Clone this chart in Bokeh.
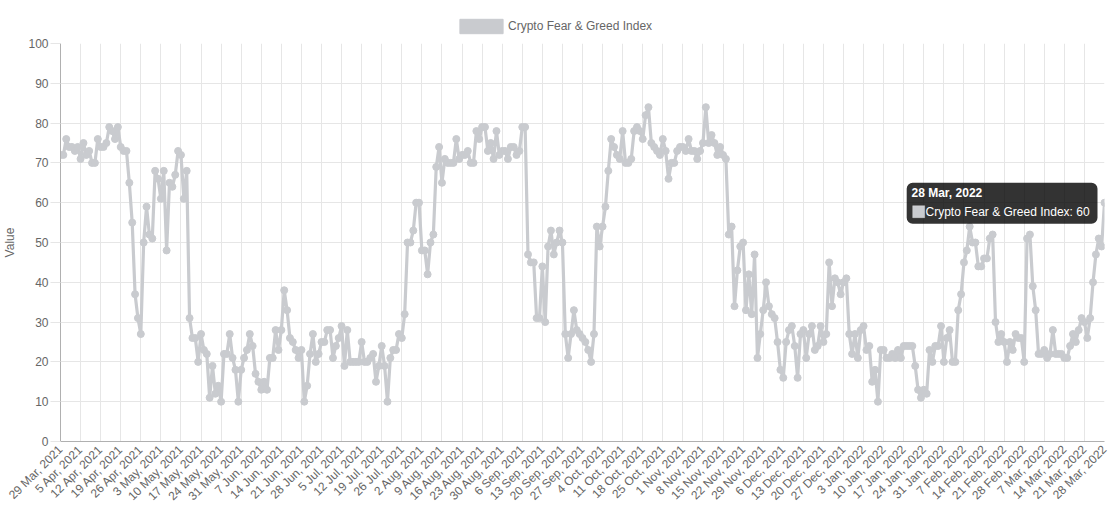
import math
import datetime
from bokeh.plotting import figure
from bokeh.layouts import column
from bokeh.models import (Range1d, FixedTicker, Legend, LegendItem, BoxAnnotation,
                          Label, ColumnDataSource)
from bokeh.embed import file_html
from bokeh.resources import INLINE

# ---------------- data ----------------
start_date = datetime.date(2021, 3, 29)
series_name = "Crypto Fear & Greed Index"
fear_greed = [
    72, 72, 76, 74, 74, 73, 74, 71, 75, 72,
    73, 70, 70, 76, 74, 74, 75, 79, 78, 76,
    79, 74, 73, 73, 65, 55, 37, 31, 27, 50,
    59, 52, 51, 68, 66, 61, 68, 48, 65, 64,
    67, 73, 72, 61, 68, 31, 26, 26, 20, 27,
    23, 22, 11, 19, 12, 14, 10, 22, 22, 27,
    21, 18, 10, 18, 21, 23, 27, 24, 17, 15,
    13, 15, 13, 21, 21, 28, 23, 28, 38, 33,
    26, 25, 23, 21, 23, 10, 14, 22, 27, 20,
    22, 25, 25, 28, 28, 21, 24, 26, 29, 19,
    28, 20, 20, 20, 20, 25, 20, 20, 21, 22,
    15, 19, 24, 19, 10, 21, 23, 23, 27, 26,
    32, 50, 50, 53, 60, 60, 48, 48, 42, 50,
    52, 69, 74, 65, 71, 70, 70, 70, 76, 71,
    72, 72, 73, 70, 70, 78, 76, 79, 79, 73,
    75, 71, 78, 72, 73, 73, 71, 74, 74, 72,
    73, 79, 79, 47, 45, 45, 31, 31, 44, 30,
    49, 53, 47, 50, 53, 50, 27, 21, 27, 33,
    28, 27, 26, 25, 23, 20, 27, 54, 49, 54,
    59, 68, 76, 74, 72, 71, 78, 70, 70, 71,
    78, 79, 78, 76, 82, 84, 75, 74, 73, 72,
    76, 73, 66, 70, 70, 73, 74, 74, 73, 76,
    73, 73, 71, 73, 75, 84, 75, 77, 75, 72,
    74, 72, 71, 52, 54, 34, 43, 49, 50, 33,
    42, 32, 47, 21, 27, 33, 40, 34, 32, 31,
    25, 18, 16, 25, 28, 29, 24, 16, 27, 28,
    21, 27, 29, 23, 24, 29, 25, 27, 45, 34,
    41, 40, 37, 40, 41, 27, 22, 27, 21, 28,
    29, 23, 24, 15, 18, 10, 23, 23, 21, 21,
    22, 21, 23, 21, 24, 24, 24, 24, 19, 13,
    11, 13, 12, 23, 20, 24, 24, 29, 20, 26,
    28, 20, 20, 33, 37, 45, 48, 54, 50, 50,
    44, 44, 46, 46, 51, 52, 30, 25, 27, 25,
    20, 25, 23, 27, 26, 26, 20, 51, 52, 39,
    33, 22, 22, 23, 21, 22, 28, 22, 22, 22,
    21, 21, 24, 27, 25, 28, 31, 30, 26, 31,
    40, 47, 51, 49, 60,
]
y_ticks = [0, 10, 20, 30, 40, 50, 60, 70, 80, 90, 100]
month_abbr = ["Jan", "Feb", "Mar", "Apr", "May", "Jun",
              "Jul", "Aug", "Sep", "Oct", "Nov", "Dec"]

day_index = list(range(len(fear_greed)))
dates = [start_date + datetime.timedelta(days=i) for i in day_index]
date_labels = [f"{d.day} {month_abbr[d.month - 1]}, {d.year}" for d in dates]
tick_days = day_index[::7]
tick_labels = {i: date_labels[i] for i in tick_days}

# ---------------- styling ----------------
FONT = "Liberation Sans"
TEXT_COLOR = "#666666"
LINE_COLOR = "#c9cbcf"
GRID_COLOR = "#e6e6e6"
AXIS_COLOR = "#b0b0b0"
WIDTH = 1112

# ---------------- header with legend ----------------
head = figure(width=WIDTH, height=35, output_backend="svg", toolbar_location=None,
              x_range=Range1d(0, 1), y_range=Range1d(0, 1),
              x_axis_location=None, y_axis_location=None,
              min_border_left=0, min_border_right=0, min_border_top=0, min_border_bottom=0)
head.outline_line_color = None
head.grid.visible = False
# legend key renderer, kept outside the header's visible range
proxy = head.quad(left=[2], right=[3], top=[3], bottom=[2], fill_color=LINE_COLOR,
                  line_color=LINE_COLOR, line_width=1)
legend = Legend(items=[LegendItem(label=series_name, renderers=[proxy])],
                location=(394, 0), orientation="horizontal",
                glyph_width=54, glyph_height=18, label_height=18,
                padding=0, margin=0, spacing=0, label_standoff=0,
                border_line_color=None, background_fill_alpha=0,
                label_text_font=FONT, label_text_font_size="12px",
                label_text_color=TEXT_COLOR)
head.add_layout(legend)

# ---------------- main chart ----------------
p = figure(width=WIDTH, height=476, output_backend="svg", toolbar_location=None,
           x_range=Range1d(day_index[0], day_index[-1]), y_range=Range1d(0, 100),
           min_border_left=59, min_border_right=8, min_border_top=8, min_border_bottom=68)
p.outline_line_color = None
p.background_fill_color = "white"
p.border_fill_color = "white"

src = ColumnDataSource(dict(x=day_index, y=fear_greed, date=date_labels))
p.line("x", "y", source=src, line_color=LINE_COLOR, line_width=3.2)
p.scatter("x", "y", source=src, size=7, fill_color=LINE_COLOR, line_color=LINE_COLOR)

# axes
p.yaxis.ticker = FixedTicker(ticks=y_ticks)
p.yaxis.axis_label = "Value"
p.yaxis.axis_label_text_font_style = "normal"
p.yaxis.axis_label_text_font = FONT
p.yaxis.axis_label_text_font_size = "12px"
p.yaxis.axis_label_text_color = TEXT_COLOR
p.yaxis.axis_label_standoff = 8
p.yaxis.major_tick_out = 10
p.yaxis.major_tick_in = 0
p.yaxis.major_label_standoff = 2

p.xaxis.ticker = FixedTicker(ticks=tick_days)
p.xaxis.major_label_overrides = tick_labels
p.xaxis.major_label_orientation = math.pi / 4
p.xaxis.major_tick_out = 0
p.xaxis.major_tick_in = 0
p.xaxis.major_label_standoff = 6

for ax in (p.xaxis, p.yaxis):
    ax.minor_tick_line_color = None
    ax.major_tick_line_color = GRID_COLOR
    ax.axis_line_color = AXIS_COLOR
    ax.major_label_text_font = FONT
    ax.major_label_text_font_size = "12px"
    ax.major_label_text_color = TEXT_COLOR

p.grid.grid_line_color = GRID_COLOR

# tooltip for the last point (static)
FRAME_W, FRAME_H = 1045.0, 398.0
px_x = (day_index[-1] - day_index[0]) / FRAME_W
px_y = 100.0 / FRAME_H
lx, ly = day_index[-1], fear_greed[-1]
p.add_layout(BoxAnnotation(left=lx - 198 * px_x, right=lx - 7 * px_x,
                           top=ly + 20 * px_y, bottom=ly - 21 * px_y,
                           fill_color="black", fill_alpha=0.8, line_alpha=0,
                           border_radius=6))
p.add_layout(BoxAnnotation(left=lx - 192 * px_x, right=lx - 180 * px_x,
                           top=ly - 3 * px_y, bottom=ly - 15 * px_y,
                           fill_color=LINE_COLOR, fill_alpha=1.0,
                           line_color="white", line_width=1))
p.add_layout(Label(x=lx, y=ly, x_offset=-193, y_offset=10, text=date_labels[-1],
                   text_font=FONT, text_font_size="12px", text_font_style="bold",
                   text_color="white", text_align="left", text_baseline="middle"))
p.add_layout(Label(x=lx, y=ly, x_offset=-179, y_offset=-9,
                   text=f"{series_name}: {fear_greed[-1]}",
                   text_font=FONT, text_font_size="12px",
                   text_color="white", text_align="left", text_baseline="middle"))

page = column(head, p, spacing=0)
open("out.html", "w").write(file_html(page, INLINE))
